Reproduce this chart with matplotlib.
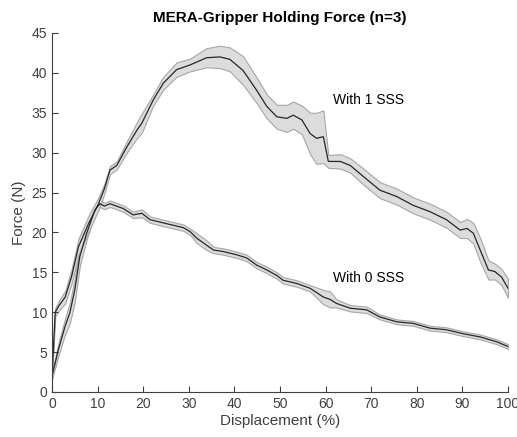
import numpy as np
import matplotlib
matplotlib.use("Agg")
import matplotlib.pyplot as plt

plt.rcParams['font.family'] = ['Liberation Sans', 'DejaVu Sans']

# With 1 SSS: mean force and spread (N) vs displacement (%)
x1 = [0, 0.7, 1.5, 2.9, 4.3, 5.8, 8, 10.2, 11.5, 12.7, 14.2, 16.4, 18.6, 19.7,
      22.2, 24.4, 27.3, 30.3, 33.9, 36.8, 39, 41.9, 44.9, 47.1, 49.3, 51.5,
      52.9, 54.8, 56.6, 58, 59.5, 60.6, 63.2, 65.4, 68.3, 71.9, 75.6, 79.2,
      82.9, 86.5, 89.5, 91, 92.4, 93.9, 95.7, 97.1, 98.6, 100]
f1 = [2, 10, 10.8, 11.9, 14.5, 18.2, 21.1, 23.6, 25.5, 27.8, 28.4, 30.7, 32.8, 33.7,
      36.6, 38.7, 40.4, 41.0, 41.9, 42.0, 41.7, 40.3, 37.8, 35.8, 34.5, 34.3,
      34.7, 34.1, 32.4, 31.8, 32.0, 28.9, 28.9, 28.4, 27.0, 25.3, 24.5, 23.4,
      22.6, 21.6, 20.3, 20.5, 19.9, 17.8, 15.3, 15.1, 14.4, 13.0]
s1 = [0.4, 0.5, 0.6, 0.8, 0.9, 1.0, 1.0, 0.8, 0.6, 0.5, 0.5, 0.7, 1.0, 1.2,
      0.7, 0.8, 0.9, 0.8, 1.2, 1.4, 1.5, 1.8, 1.6, 1.5, 1.5, 1.7,
      1.7, 1.8, 2.6, 3.2, 3.3, 0.8, 0.9, 0.9, 1.0, 1.0, 1.0, 1.0,
      1.0, 1.0, 1.0, 1.2, 1.3, 1.5, 1.2, 1.0, 1.0, 1.2]

# With 0 SSS
x0 = [0, 1.4, 2.85, 3.9, 5, 6.1, 7.6, 9.4, 10.5, 11.5, 12.7, 15.6, 17.8, 19.7,
      21.5, 25.1, 28.8, 30.3, 31.7, 33.9, 35.4, 37.6, 40.5, 42.7, 44.9, 47.1,
      49.3, 50.7, 53.7, 56.6, 59.5, 61, 62.4, 65.4, 69, 71.9, 75.6, 79.2, 82.9,
      86.5, 90.2, 93.9, 97.5, 100]
f0 = [2, 5.3, 8.2, 9.9, 12.8, 17.0, 19.9, 22.8, 23.6, 23.3, 23.6, 23.0, 22.2, 22.4,
      21.6, 21.1, 20.6, 20.1, 19.3, 18.4, 17.8, 17.6, 17.2, 16.8, 15.9, 15.3,
      14.6, 14.0, 13.6, 13.0, 11.9, 11.6, 11.1, 10.5, 10.3, 9.4, 8.8, 8.6, 8.0,
      7.8, 7.3, 6.9, 6.3, 5.7]
s0 = [0.4, 0.8, 1.0, 1.3, 1.5, 1.2, 0.8, 0.6, 0.4, 0.4, 0.4, 0.4, 0.4, 0.5,
      0.4, 0.4, 0.4, 0.4, 0.6, 0.6, 0.4, 0.4, 0.4, 0.4, 0.4, 0.4,
      0.4, 0.4, 0.4, 0.4, 0.9, 1.0, 0.5, 0.4, 0.4, 0.3, 0.3, 0.3, 0.3,
      0.3, 0.3, 0.3, 0.3, 0.3]

fig = plt.figure(figsize=(5.17, 4.37), dpi=100)
ax = fig.add_axes([0.1006, 0.103, 0.8820, 0.8215])

axcol = '#404040'
for x, f, s in [(x0, f0, s0), (x1, f1, s1)]:
    x = np.array(x)
    f = np.array(f)
    s = np.array(s)
    ax.fill_between(x, f - s, f + s, facecolor='#dcdcdc', edgecolor='#a6a6a6', linewidth=0.8)
    ax.plot(x, f, color='#262626', linewidth=0.9)

ax.text(61.6, 36.6, 'With 1 SSS', fontsize=10, va='center', ha='left')
ax.text(61.6, 14.3, 'With 0 SSS', fontsize=10, va='center', ha='left')

ax.set_xlim(0, 100)
ax.set_ylim(0, 45)
ax.set_xticks(range(0, 101, 10))
ax.set_yticks(range(0, 46, 5))
ax.spines['top'].set_visible(False)
ax.spines['right'].set_visible(False)
for sp in ['left', 'bottom']:
    ax.spines[sp].set_color(axcol)
    ax.spines[sp].set_linewidth(0.8)
ax.tick_params(direction='in', length=4, width=0.8, colors=axcol, labelsize=10)
ax.set_xlabel('Displacement (%)', fontsize=11, color=axcol, labelpad=2)
ax.set_ylabel('Force (N)', fontsize=11, color=axcol, labelpad=4)
ax.set_title('MERA-Gripper Holding Force (n=3)', fontsize=11, fontweight='bold', pad=8)

fig.savefig('out.png', dpi=100)
